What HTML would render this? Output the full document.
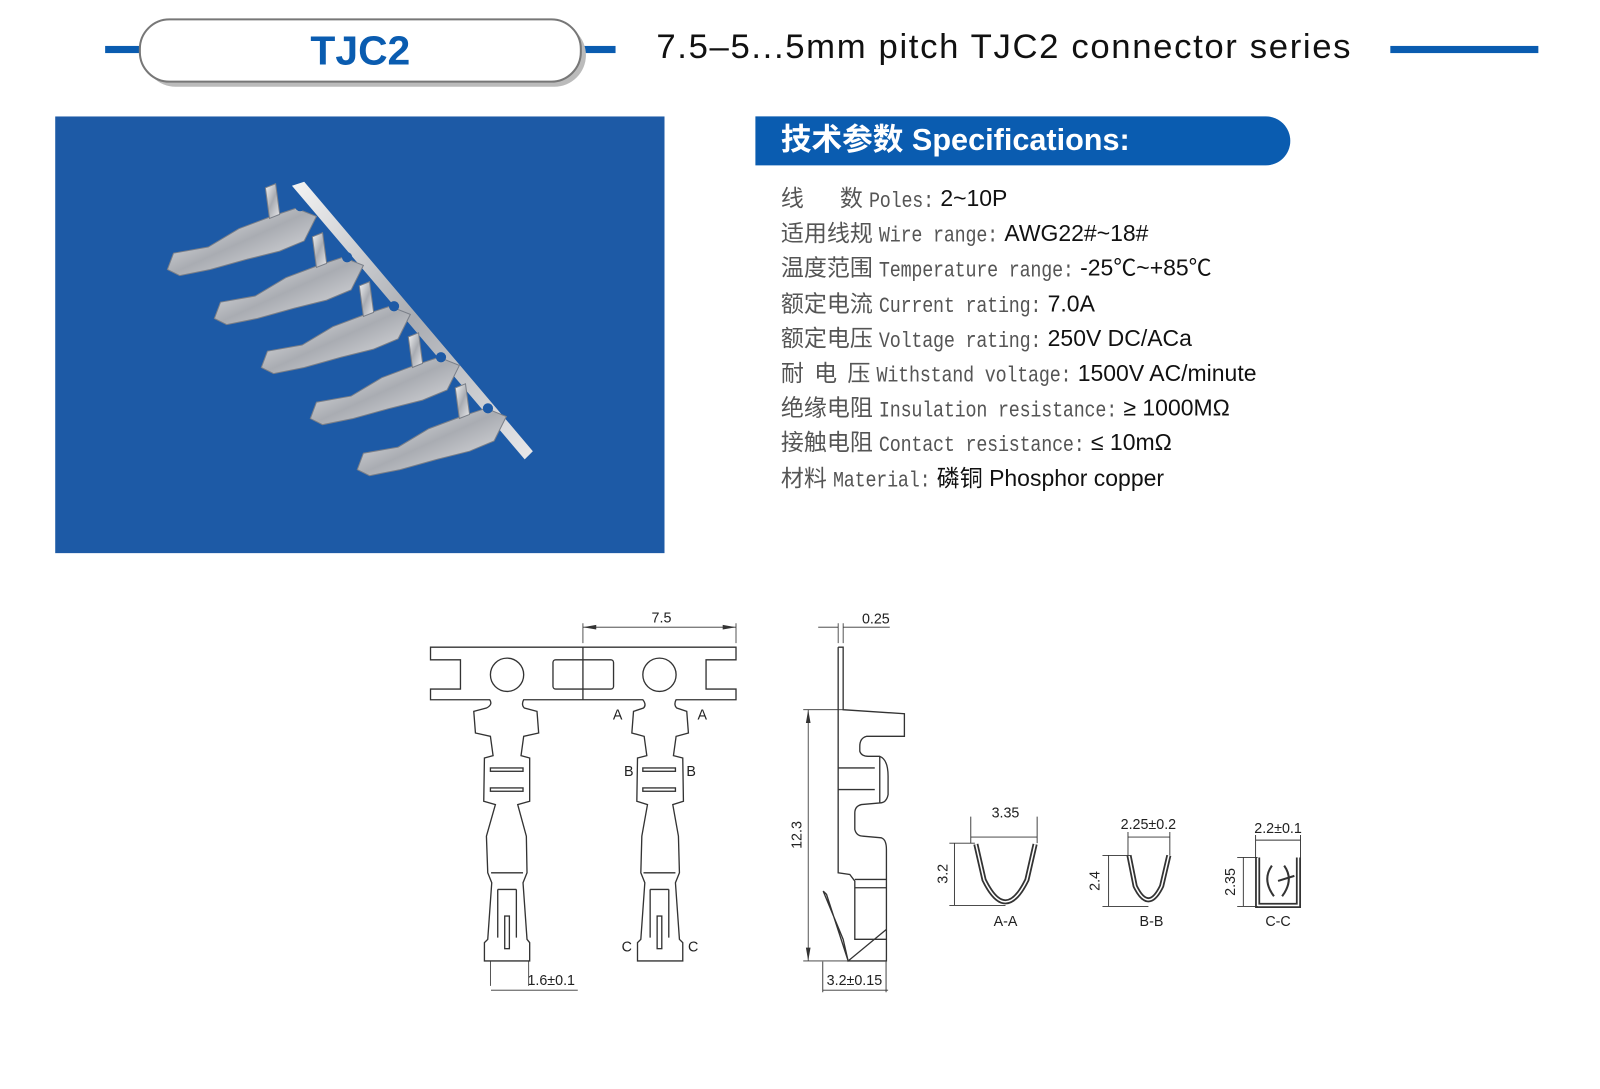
<!DOCTYPE html>
<html><head><meta charset="utf-8">
<style>
html,body{margin:0;padding:0;background:#fff;}
body{width:1600px;height:1067px;position:relative;overflow:hidden;font-family:"Liberation Sans","Noto Sans CJK SC",sans-serif;}
#w{position:absolute;left:0;top:0;width:1600px;height:1067px;transform:scale(1.0208);transform-origin:0 0;}
.abs{position:absolute;}
.spec{position:absolute;left:765px;height:34px;line-height:34px;white-space:nowrap;font-size:22.5px;color:#111;}
.cn{font-family:"Noto Sans CJK SC","WenQuanYi Zen Hei",sans-serif;color:#555;font-size:22.5px;margin-right:6px;}
.mono{font-family:"Liberation Mono",monospace;color:#555;font-size:18px;letter-spacing:-0.2px;display:inline-block;transform:scaleY(1.2);}
</style></head><body><div id="w">
<div class="abs" style="left:103px;top:45px;width:36px;height:7px;background:#0a5cb0"></div>
<div class="abs" style="left:568px;top:45px;width:35px;height:7px;background:#0a5cb0"></div>
<div class="abs" style="left:141px;top:23px;width:433px;height:62px;border-radius:31px;background:#bbb"></div>
<div class="abs" style="left:136px;top:18px;width:430px;height:59px;border-radius:30px;border:2px solid #777;background:#fff;text-align:center;line-height:60px;font-weight:bold;font-size:40px;color:#0a5cb0">TJC2</div>
<div class="abs" style="left:643px;top:27px;font-size:34px;color:#111;white-space:nowrap;letter-spacing:1.6px">7.5–5...5mm pitch TJC2 connector series</div>
<div class="abs" style="left:1362px;top:45px;width:145px;height:7px;background:#0a5cb0"></div>

<svg class="abs" style="left:54px;top:114px" width="597" height="428" viewBox="0 0 597 428">
<defs><linearGradient id="g" x1="0" y1="0" x2="1" y2="1"><stop offset="0" stop-color="#f4f4f4"/><stop offset="0.5" stop-color="#a9acb2"/><stop offset="1" stop-color="#e8e8ea"/></linearGradient></defs>
<rect width="597" height="428" fill="#1d5aa6"/>
<polygon points="232,68 244,64 468,328 460,336" fill="url(#g)"/>
<g fill="url(#g)" stroke="#7a7f88" stroke-width="1">
<g id="t"><polygon points="236,90 212,98 180,110 150,128 116,134 110,150 122,156 152,150 188,140 220,132 244,122 256,98"/><polygon points="206,70 216,66 220,96 210,100"/></g>
<use href="#t" transform="translate(46,48)"/>
<use href="#t" transform="translate(92,96)"/>
<use href="#t" transform="translate(140,146)"/>
<use href="#t" transform="translate(186,196)"/>
</g>
<g fill="#1d5aa6"><circle cx="240" cy="88" r="5"/><circle cx="286" cy="138" r="5"/><circle cx="332" cy="186" r="5"/><circle cx="378" cy="236" r="5"/><circle cx="424" cy="286" r="5"/></g>
</svg>

<div class="abs" style="left:740px;top:114px;width:524px;height:48px;background:#0a5cb0;border-radius:0 24px 24px 0"></div>
<div class="abs" style="left:765px;top:114px;height:48px;line-height:48px;color:#fff;font-weight:bold;font-size:30px;white-space:nowrap">技术参数 Specifications:</div>

<div class="spec" style="top:176px"><span class="cn">线&nbsp;&nbsp;&nbsp;&nbsp;&nbsp;&nbsp;&nbsp;数</span><span class="mono">Poles:</span> 2~10P</div>
<div class="spec" style="top:210px"><span class="cn">适用线规</span><span class="mono">Wire range:</span> AWG22#~18#</div>
<div class="spec" style="top:244px"><span class="cn">温度范围</span><span class="mono">Temperature range:</span> -25℃~+85℃</div>
<div class="spec" style="top:279px"><span class="cn">额定电流</span><span class="mono">Current rating:</span> 7.0A</div>
<div class="spec" style="top:313px"><span class="cn">额定电压</span><span class="mono">Voltage rating:</span> 250V DC/ACa</div>
<div class="spec" style="top:347px"><span class="cn">耐&nbsp;&nbsp;电&nbsp;&nbsp;压</span><span class="mono">Withstand voltage:</span> 1500V AC/minute</div>
<div class="spec" style="top:381px"><span class="cn">绝缘电阻</span><span class="mono">Insulation resistance:</span> ≥ 1000MΩ</div>
<div class="spec" style="top:415px"><span class="cn">接触电阻</span><span class="mono">Contact resistance:</span> ≤ 10mΩ</div>
<div class="spec" style="top:450px"><span class="cn">材料</span><span class="mono">Material:</span> 磷铜 Phosphor copper</div>

<svg class="abs" style="left:0;top:0" width="1600" height="1067" viewBox="0 0 1600 1067">
<g transform="translate(392.4,577.9) scale(0.326)" fill="none" stroke="#333" stroke-width="4">
<path d="M90,172 L1008,172 L1008,210 L918,210 L918,298 L1008,298 L1008,330 L828,330 Q820,345 830,355 L860,365 L865,430 L828,440 L820,498 L848,505 L850,635 L818,645 L835,740 L838,850 L826,880 L838,1050 L848,1060 L848,1115 L712,1115 L712,1060 L722,1050 L734,880 L722,850 L725,740 L742,645 L710,635 L712,505 L740,498 L732,440 L695,430 L700,365 L730,355 Q740,345 728,330 L370,330 Q362,345 372,355 L410,365 L415,430 L370,440 L362,498 L388,505 L388,635 L352,645 L378,740 L380,850 L368,880 L380,1050 L388,1060 L388,1115 L252,1115 L252,1060 L262,1050 L274,880 L262,850 L258,740 L285,645 L250,635 L252,505 L278,498 L270,440 L225,430 L220,365 L258,355 Q278,345 268,330 L90,330 L90,298 L180,298 L180,210 L90,210 Z"/>
<line x1="548" y1="172" x2="548" y2="330"/>
<circle cx="320" cy="255" r="50"/><circle cx="778" cy="255" r="50"/>
<rect x="458" y="210" width="182" height="88" rx="8"/>
<g id="det">
<rect x="270" y="535" width="98" height="10"/><rect x="270" y="595" width="98" height="10"/>
<line x1="272" y1="850" x2="368" y2="850"/>
<path d="M292,900 L292,1045 M348,900 L348,1045 M292,900 L348,900"/>
<rect x="313" y="980" width="14" height="98"/>
</g>
<use href="#det" transform="translate(458,0)"/>
<path d="M548,100 L548,160 M1008,100 L1008,160 M548,112 L1008,112" stroke-width="2.5"/>
<path d="M548,112 l40,-7 l0,14 z M1008,112 l-40,-7 l0,14 z" fill="#333" stroke="none"/>
<path d="M1315,172 L1330,172 L1330,360 L1514,372 L1514,440 L1400,440 Q1380,445 1380,470 L1380,485 Q1385,500 1405,500 L1440,500 Q1465,510 1465,560 L1465,615 Q1460,640 1440,640 L1385,645 Q1365,650 1365,670 L1365,720 Q1370,740 1390,740 L1445,745 Q1460,750 1460,780 L1460,1115 L1345,1115 L1280,915 L1270,905 L1330,1050 L1345,1115 L1460,1020 M1315,172 L1315,850 L1350,855 L1365,875 L1365,1050 L1460,1050 M1365,870 L1460,870 M1365,895 L1460,895 M1315,535 L1425,535 M1315,600 L1425,600 M1440,500 L1440,640"/>
<path d="M1315,100 L1315,160 M1330,100 L1330,160 M1255,112 L1315,112 M1330,112 L1470,112" stroke-width="2.5"/>
<path d="M1210,360 L1330,360 M1210,1115 L1345,1115 M1225,360 L1225,1115" stroke-width="2.5"/>
<path d="M1225,360 l-7,40 l14,0 z M1225,1115 l-7,-40 l14,0 z" fill="#333" stroke="none"/>
<path d="M270,1115 L270,1190 M385,1115 L385,1190" stroke-width="2.5"/>
</g>
<g font-family="Liberation Sans, sans-serif" font-size="14" fill="#222" text-anchor="middle">
<text x="648" y="610">7.5</text>
<text x="858" y="611">0.25</text>
<text x="0" y="0" transform="translate(785,818) rotate(-90)">12.3</text>
<text x="540" y="965">1.6±0.1</text>
<text x="837" y="965">3.2±0.15</text>
<text x="605" y="705">A</text><text x="688" y="705">A</text>
<text x="616" y="760">B</text><text x="677" y="760">B</text>
<text x="614" y="932">C</text><text x="679" y="932">C</text>
<text x="985" y="801">3.35</text>
<text x="1125" y="812">2.25±0.2</text>
<text x="1252" y="816">2.2±0.1</text>
<text x="0" y="0" transform="translate(928,856) rotate(-90)">3.2</text>
<text x="0" y="0" transform="translate(1077,863) rotate(-90)">2.4</text>
<text x="0" y="0" transform="translate(1210,864) rotate(-90)">2.35</text>
<text x="985" y="907">A-A</text><text x="1128" y="907">B-B</text><text x="1252" y="907">C-C</text>
</g>
<path d="M956,827 L964,862 Q985,905 1006,862 L1014,827" fill="none" stroke="#333" stroke-width="5"/>
<path d="M956,827 L964,862 Q985,905 1006,862 L1014,827" fill="none" stroke="#fff" stroke-width="1.5"/>
<path d="M1106,838 L1112,868 Q1125,895 1138,868 L1145,838" fill="none" stroke="#333" stroke-width="5"/>
<path d="M1106,838 L1112,868 Q1125,895 1138,868 L1145,838" fill="none" stroke="#fff" stroke-width="1.5"/>
<path d="M1232,840 L1232,887 L1272,887 L1272,840" fill="none" stroke="#333" stroke-width="5"/>
<path d="M1232,840 L1232,887 L1272,887 L1272,840" fill="none" stroke="#fff" stroke-width="1.5"/>
<path d="M1246,848 Q1236,862 1248,878 M1258,848 Q1268,862 1256,878 M1252,863 L1268,858" fill="none" stroke="#333" stroke-width="2"/>
<g stroke="#333" stroke-width="0.9" fill="none">
<path d="M951,800 L951,826 M1016,800 L1016,826 M951,820 L1016,820"/>
<path d="M930,826 L955,826 M930,887 L985,887 M935,826 L935,887"/>
<path d="M1105,815 L1105,838 M1146,815 L1146,838 M1105,820 L1146,820"/>
<path d="M1080,838 L1107,838 M1080,888 L1125,888 M1086,838 L1086,888"/>
<path d="M1230,818 L1230,840 M1274,818 L1274,840 M1230,823 L1274,823"/>
<path d="M1212,840 L1232,840 M1212,888 L1232,888 M1218,840 L1218,888"/>
<path d="M481,970 L566,970 M806,970 L870,970 M806,942 L806,972 M868,942 L868,972"/>
</g>
</svg>
</div></body></html>
